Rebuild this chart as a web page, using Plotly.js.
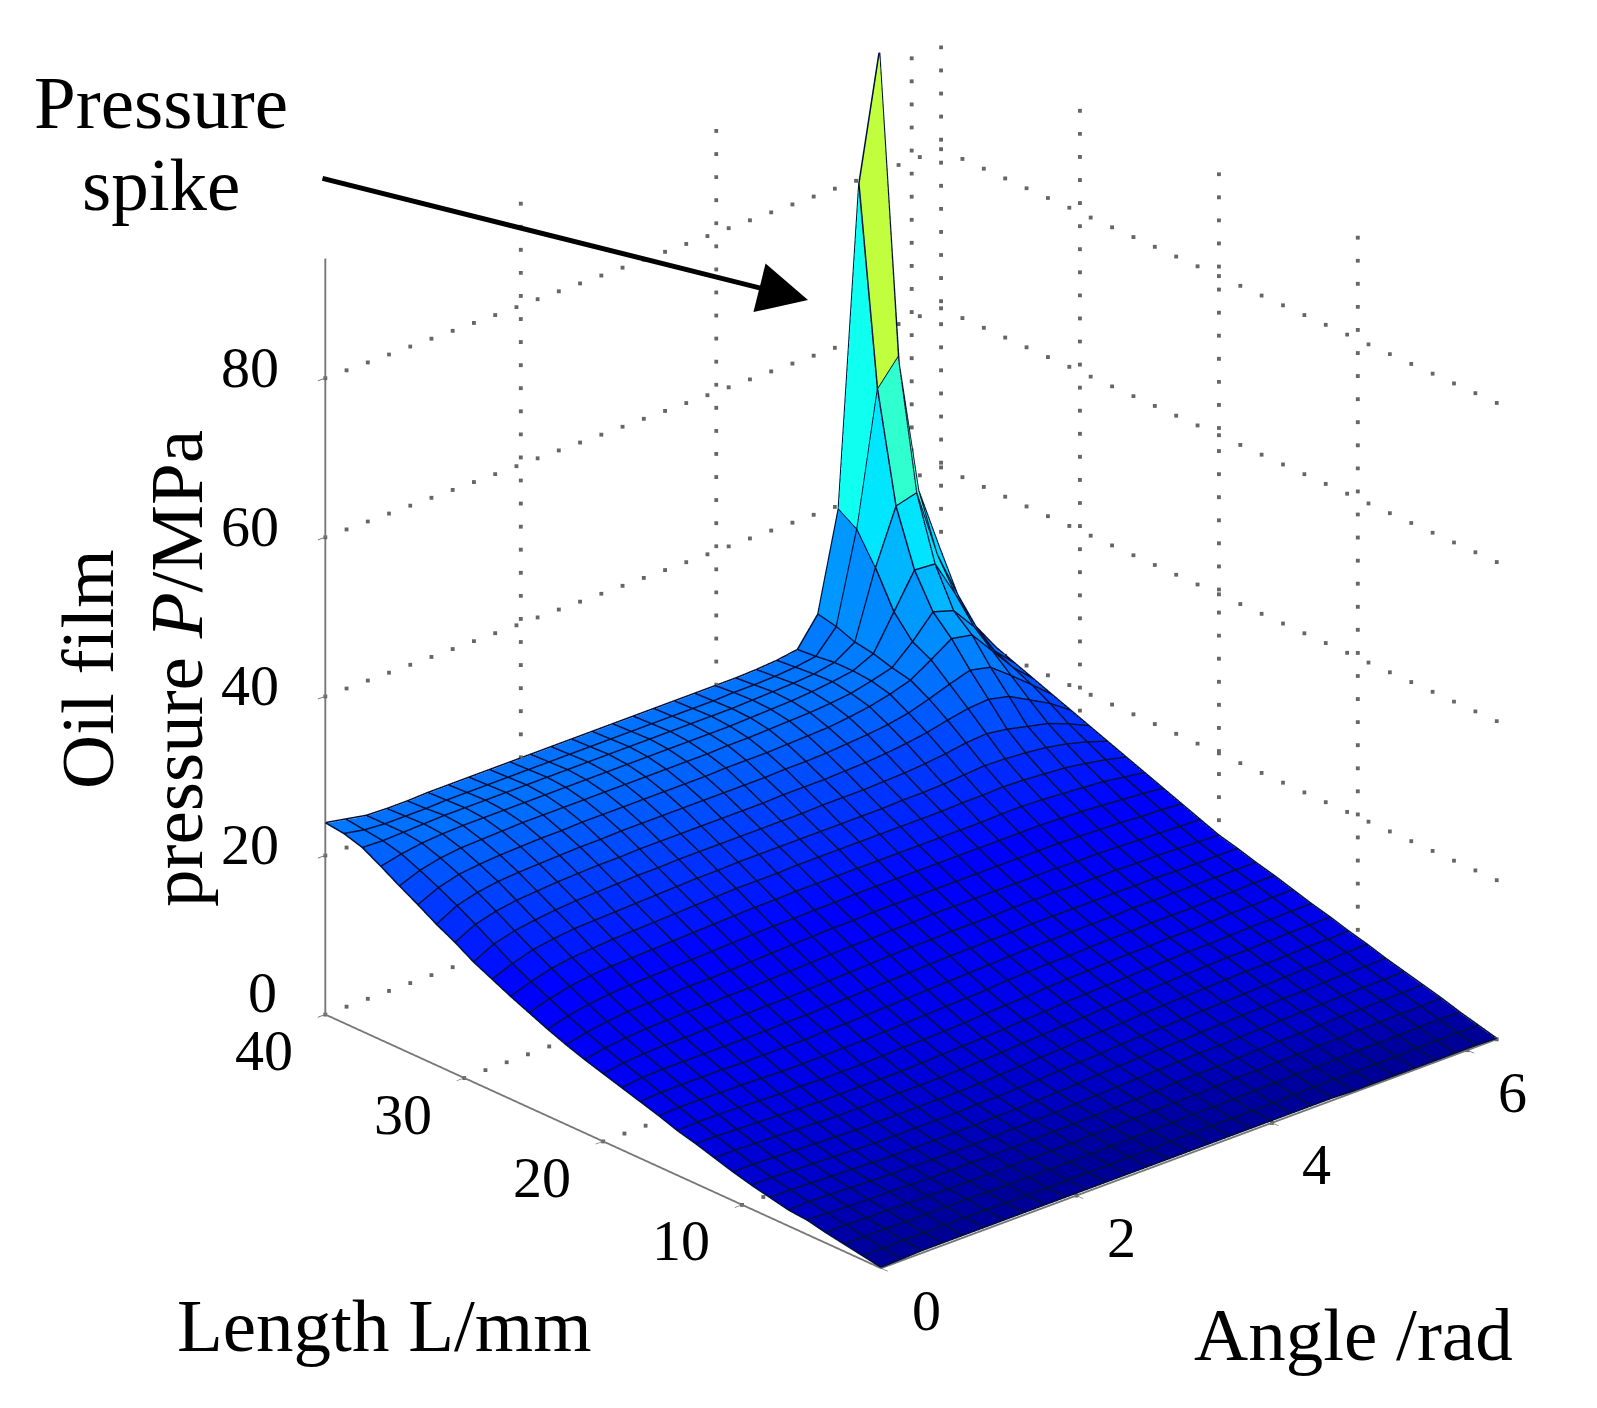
<!DOCTYPE html>
<html>
<head>
<meta charset="utf-8">
<script src="https://cdn.plot.ly/plotly-3.0.1.min.js"></script>
<style>html,body{margin:0;padding:0;background:#fff}#chart{width:1597px;height:1408px}</style>
</head>
<body>
<div id="chart"></div>
<script>
const angle = [0,.21,.42,.63,.84,1.05,1.26,1.47,1.68,1.89,2.1,2.31,2.52,2.73,2.94,3.15,3.36,3.57,3.78,3.99,4.2,4.41,4.62,4.83,5.04,5.25,5.46,5.67,5.88,6.09,6.3];
const lengthMm = [0,1.333,2.667,4,5.333,6.667,8,9.333,10.667,12,13.333,14.667,16,17.333,18.667,20,21.333,22.667,24,25.333,26.667,28,29.333,30.667,32,33.333,34.667,36,37.333,38.667,40];

// oil film pressure, one row per length
const pressure = [
[0,.1,.2,.2,.2,.2,.2,.2,.2,.2,.2,.2,.2,.2,.2,.2,.2,.2,.2,.2,.2,.2,.2,.1,.1,.1,.1,.1,.1,.1,0],
[.4,.4,.4,.4,.4,.4,.4,.3,.3,.3,.3,.3,.3,.3,.3,.4,.4,.4,.4,.4,.4,.5,.5,.5,.5,.5,.5,.6,.6,.6,.6],
[.8,.8,.8,.7,.7,.7,.7,.6,.6,.6,.6,.6,.6,.6,.7,.7,.7,.8,.8,.8,.9,.9,1,1,1,1.1,1.1,1.1,1.2,1.2,1.2],
[1.2,1.2,1.1,1.1,1,1,.9,.9,.9,.9,.9,.9,.9,1,1,1.1,1.1,1.2,1.2,1.3,1.4,1.4,1.5,1.5,1.6,1.6,1.7,1.7,1.8,1.8,1.9],
[1.7,1.6,1.5,1.4,1.4,1.3,1.2,1.2,1.2,1.2,1.2,1.2,1.3,1.3,1.4,1.4,1.5,1.6,1.7,1.8,1.8,1.9,2,2.1,2.1,2.2,2.3,2.3,2.4,2.4,2.5],
[1.9,2,1.9,1.8,1.7,1.6,1.6,1.5,1.5,1.5,1.5,1.6,1.6,1.7,1.8,1.9,2,2.1,2.2,2.3,2.4,2.4,2.5,2.6,2.7,2.8,2.8,2.9,3,3,3.1],
[2.4,2.4,2.3,2.2,2.1,2,1.9,1.9,1.9,1.9,1.9,2,2,2.1,2.2,2.3,2.5,2.6,2.7,2.8,2.9,3,3.1,3.2,3.3,3.4,3.4,3.5,3.6,3.6,3.7],
[2.9,2.9,2.8,2.7,2.6,2.5,2.4,2.4,2.4,2.4,2.4,2.5,2.5,2.6,2.7,2.9,3,3.1,3.3,3.4,3.5,3.6,3.7,3.8,3.9,4,4.1,4.2,4.2,4.3,4.4],
[3.5,3.5,3.4,3.3,3.2,3.1,3,3,3,3,3,3,3.1,3.2,3.3,3.5,3.6,3.8,3.9,4,4.2,4.3,4.4,4.5,4.6,4.7,4.7,4.8,4.9,4.9,5],
[4.2,4.2,4.1,4,3.9,3.8,3.7,3.7,3.7,3.7,3.7,3.7,3.8,3.9,4,4.2,4.3,4.5,4.6,4.8,4.9,5,5.1,5.2,5.3,5.4,5.4,5.5,5.6,5.6,5.7],
[4.9,4.9,4.8,4.7,4.6,4.5,4.4,4.4,4.4,4.4,4.4,4.5,4.6,4.7,4.8,4.9,5.1,5.2,5.4,5.5,5.6,5.7,5.8,5.9,6,6,6.1,6.2,6.2,6.3,6.3],
[5.5,5.6,5.6,5.5,5.4,5.3,5.3,5.2,5.2,5.2,5.3,5.4,5.4,5.5,5.6,5.8,5.9,6,6.2,6.3,6.4,6.5,6.6,6.6,6.7,6.7,6.8,6.9,6.9,7,7],
[6.3,6.4,6.4,6.3,6.3,6.2,6.1,6.1,6.1,6.2,6.2,6.3,6.4,6.5,6.6,6.7,6.8,7,7.1,7.2,7.2,7.3,7.4,7.4,7.5,7.5,7.5,7.6,7.6,7.7,7.7],
[7,7.2,7.2,7.2,7.2,7.1,7.1,7.1,7.1,7.2,7.2,7.3,7.4,7.5,7.6,7.7,7.8,7.9,8,8.1,8.1,8.2,8.2,8.2,8.3,8.3,8.3,8.3,8.3,8.3,8.3],
[7.7,8,8.1,8.1,8.1,8.1,8.1,8.1,8.2,8.2,8.3,8.4,8.5,8.6,8.7,8.8,8.9,8.9,9,9,9.1,9.1,9.1,9.1,9.1,9.1,9.1,9,9,9,9],
[8.4,8.8,9,9.1,9.1,9.2,9.2,9.2,9.3,9.3,9.4,9.5,9.6,9.7,9.8,9.9,9.9,10,10,10,10.1,10.1,10.1,10,10,10,9.9,9.9,9.8,9.7,9.6],
[9.1,9.6,9.9,10.1,10.2,10.3,10.3,10.4,10.4,10.5,10.6,10.7,10.8,10.9,10.9,11,11,11.1,11.1,11.1,11.1,11.1,11.1,11.1,11,11,10.9,10.8,10.7,10.6,10.5],
[9.9,10.5,10.9,11.2,11.3,11.4,11.5,11.5,11.6,11.7,11.8,11.9,12,12.1,12.1,12.2,12.2,12.2,12.2,12.2,12.2,12.2,12.2,12.2,12.2,12.1,12,11.9,11.7,11.6,11.4],
[10.8,11.5,12,12.3,12.5,12.6,12.7,12.8,12.9,13,13.1,13.2,13.2,13.3,13.3,13.4,13.4,13.4,13.4,13.4,13.4,13.4,13.4,13.4,13.4,13.3,13.2,13,12.8,12.6,12.3],
[11.8,12.6,13.2,13.6,13.8,13.9,14,14.1,14.2,14.3,14.4,14.5,14.5,14.6,14.6,14.6,14.6,14.6,14.6,14.6,14.6,14.6,14.6,14.7,14.7,14.6,14.4,14.2,14,13.6,13.2],
[12.8,13.7,14.4,14.8,15,15.2,15.3,15.4,15.5,15.6,15.7,15.8,15.8,15.8,15.9,15.9,15.9,15.9,15.9,15.9,15.9,15.9,16,16,16.1,16,15.8,15.6,15.2,14.7,14.1],
[13.9,14.9,15.7,16.1,16.4,16.5,16.6,16.7,16.8,16.9,17,17,17.1,17.1,17.1,17.1,17.1,17.1,17.1,17.1,17.2,17.2,17.3,17.5,17.7,17.6,17.4,17.1,16.6,15.9,15],
[15,16.3,17,17.4,17.7,17.9,18,18.1,18.2,18.2,18.3,18.3,18.3,18.3,18.3,18.3,18.3,18.4,18.4,18.4,18.5,18.6,18.8,19.1,19.5,19.7,19.3,18.7,18.1,17.1,15.9],
[16.4,17.7,18.4,18.8,19,19.2,19.3,19.4,19.4,19.5,19.5,19.5,19.5,19.5,19.5,19.5,19.6,19.6,19.6,19.7,19.8,20,20.3,20.7,21.3,21.8,22,21.4,20,18.6,16.8],
[17.6,19,19.7,20.1,20.3,20.4,20.5,20.6,20.6,20.7,20.7,20.7,20.7,20.7,20.7,20.7,20.7,20.8,20.8,20.9,21.1,21.3,21.6,22.1,22.9,23.8,24.6,24,22,19.9,17.7],
[19,20.2,20.9,21.2,21.4,21.5,21.6,21.6,21.7,21.7,21.7,21.7,21.7,21.7,21.7,21.8,21.8,21.8,21.9,22,22.1,22.4,22.8,23.4,24.2,25.8,27.5,27,24,21,18.6],
[20.3,21.3,21.9,22.2,22.3,22.4,22.5,22.5,22.5,22.5,22.5,22.5,22.5,22.5,22.5,22.5,22.6,22.6,22.7,22.8,22.9,23.1,23.4,24,24.7,27,29.8,29,26,22,19.5],
[21.7,22.3,22.7,22.9,23,23,23,23,23,23,23,23,23,23,23,23,23,23,23.1,23.2,23.3,23.5,23.8,24.2,25.4,29.7,34,33.8,29,24,20.4],
[23,22.9,23,23.1,23.2,23.2,23.2,23.2,23.2,23.2,23.2,23.2,23.2,23.2,23.2,23.2,23.2,23.2,23.2,23.3,23.4,23.5,23.7,24.2,25.8,34.2,41,41.7,33,27,21.4],
[23.7,23.2,23,23,23,23.1,23.1,23.1,23.1,23.1,23.1,23.1,23.1,23.1,23.1,23.1,23.1,23.1,23.1,23.2,23.2,23.3,23.5,23.9,26.7,38,54.7,57.8,40,32,22.5],
[24,23.5,23,22.9,22.9,23,23,23,23,23,23,23,23,23,23,23,23,23,23,23,23,23.1,23.3,23.7,27.2,39.5,79.4,95.2,53,34,23.6]
];

const angleRange = [0,6.3];
const lengthRange = [0,40];
const pressureRange = [0,95];
const angleTicks = [0,2,4,6];
const lengthTicks = [10,20,30,40];
const pressureTicks = [0,20,40,60,80];

// jet, as the MATLAB surf in the picture uses it (low end lifted a bit, the scan is brighter there)
const jetStops = [[0,'#000096'],[.02,'#0000c8'],[.06,'#0000ec'],[.125,'#0000ff'],[.375,'#00ffff'],[.625,'#ffff00'],[.875,'#ff0000'],[1,'#800000']];

const serif = 'Liberation Serif, serif';
const tickFont = { family: serif, size: 58, color: '#000' };
const labelFont = { family: serif, size: 75, color: '#000' };

const xMax = angleRange[1], yMax = lengthRange[1], zMax = pressureRange[1];
const wallTop = 92.8;

// faces: every cell is flat, coloured by its lowest-index corner (surf with flat faces)
const nRows = lengthMm.length, nCols = angle.length;
const meshX = [], meshY = [], meshZ = [], triI = [], triJ = [], triK = [], cellValue = [];
lengthMm.forEach((l, r) => {
    angle.forEach((a, c) => {
        meshX.push(a);
        meshY.push(l);
        meshZ.push(pressure[r][c]);
        if (r < nRows - 1 && c < nCols - 1) {
            const n = r * nCols + c;
            triI.push(n, n);
            triJ.push(n + 1, n + nCols + 1);
            triK.push(n + nCols + 1, n + nCols);
            cellValue.push(pressure[r][c], pressure[r][c]);
        }
    });
});

// mesh edges, lifted a hair so they sit on top of the faces
const edgeLift = .12;
const edgeX = [], edgeY = [], edgeZ = [];
lengthMm.forEach((l, r) => {
    angle.forEach((a, c) => {
        edgeX.push(a);
        edgeY.push(l);
        edgeZ.push(pressure[r][c] + edgeLift);
    });
    edgeX.push(null);
    edgeY.push(null);
    edgeZ.push(null);
});
angle.forEach((a, c) => {
    lengthMm.forEach((l, r) => {
        edgeX.push(a);
        edgeY.push(l);
        edgeZ.push(pressure[r][c] + edgeLift);
    });
    edgeX.push(null);
    edgeY.push(null);
    edgeZ.push(null);
});

// dotted grid on the two back walls and the floor, MATLAB style
const gridX = [], gridY = [], gridZ = [];
function addDots(x0, y0, z0, x1, y1, z1, n) {
    for (let k = 0; k <= n; k++) {
        gridX.push(x0 + (x1 - x0) * k / n);
        gridY.push(y0 + (y1 - y0) * k / n);
        gridZ.push(z0 + (z1 - z0) * k / n);
    }
}
[...angleTicks, xMax].forEach(a => {
    if (a > 0) {
        addDots(a, yMax, 0, a, yMax, wallTop, 32);
        addDots(a, 0, 0, a, yMax, 0, 26);
    }
});
lengthTicks.forEach(l => {
    addDots(xMax, l, 0, xMax, l, wallTop, 32);
    addDots(0, l, 0, xMax, l, 0, 29);
});
pressureTicks.forEach(p => {
    addDots(0, yMax, p, xMax, yMax, p, 29);
    addDots(xMax, 0, p, xMax, yMax, p, 26);
});

const faces = {
    type: 'mesh3d',
    x: meshX,
    y: meshY,
    z: meshZ,
    i: triI,
    j: triJ,
    k: triK,
    intensity: cellValue,
    intensitymode: 'cell',
    colorscale: jetStops,
    cmin: 0,
    cmax: 97,
    showscale: false,
    flatshading: true,
    hoverinfo: 'skip',
    lighting: { ambient: 1, diffuse: 0, specular: 0, roughness: 1, fresnel: 0 }
};

const edges = {
    type: 'scatter3d',
    mode: 'lines',
    x: edgeX,
    y: edgeY,
    z: edgeZ,
    connectgaps: false,
    line: { color: '#00103c', width: 3 },
    hoverinfo: 'skip',
    showlegend: false
};

const grid = {
    type: 'scatter3d',
    mode: 'markers',
    x: gridX,
    y: gridY,
    z: gridZ,
    marker: { color: '#666', size: 2, symbol: 'square', line: { width: 0 } },
    hoverinfo: 'skip',
    showlegend: false
};

const axisBase = {
    title: { text: '' },
    showgrid: false,
    zeroline: false,
    showbackground: false,
    showspikes: false,
    showline: true,
    linecolor: '#777',
    linewidth: 4,
    ticks: 'outside',
    ticklen: 10,
    tickcolor: '#777',
    tickwidth: 2,
    showticklabels: false
};

// tick labels as scene annotations, the axis ones get stretched by the projection
const tickLabels = [
    ...angleTicks.map(a => ({ x: a, y: 0, z: 0, text: String(a), xshift: 45, yshift: -42 })),
    ...lengthTicks.map(l => ({ x: 0, y: l, z: 0, text: String(l), xshift: -61, yshift: -36 })),
    ...pressureTicks.map(p => ({ x: 0, y: yMax, z: p, text: String(p), xshift: p === 0 ? -63 : -75, yshift: p === 0 ? 22 : 11 }))
].map(t => ({ ...t, showarrow: false, font: tickFont, xanchor: 'center', yanchor: 'middle' }));

const paperText = (text, px, py, extra) => ({
    text, xref: 'paper', yref: 'paper', x: px / 1597, y: 1 - py / 1408,
    xanchor: 'center', yanchor: 'middle', showarrow: false, font: labelFont, ...extra
});

const layout = {
    width: 1597,
    height: 1408,
    margin: { t: 0, r: 0, b: 0, l: 0 },
    paper_bgcolor: '#fff',
    showlegend: false,
    scene: {
        domain: { x: [.141, 1], y: [.078, 1] },
        aspectmode: 'manual',
        aspectratio: { x: 1.278, y: 1.278, z: 1.278 },
        camera: {
            eye: { x: -.963, y: -1.067, z: .65 },
            up: { x: 0, y: 0, z: 1 },
            center: { x: 0, y: 0, z: 0 },
            projection: { type: 'orthographic' }
        },
        xaxis: { ...axisBase, range: angleRange, tickvals: angleTicks },
        yaxis: { ...axisBase, range: lengthRange, tickvals: lengthTicks },
        zaxis: { ...axisBase, range: pressureRange, tickvals: pressureTicks },
        annotations: tickLabels
    },
    annotations: [
        paperText('Pressure', 161, 103),
        paperText('spike', 161, 185),
        paperText('Length L/mm', 384, 1325),
        paperText('Angle /rad', 1353, 1334),
        paperText('Oil film', 87, 669, { textangle: -90 }),
        paperText('pressure <i>P</i>/MPa', 176, 669, { textangle: -90 }),
        { text: '', xref: 'paper', yref: 'paper', x: 808 / 1597, y: 1 - 300 / 1408, axref: 'pixel', ayref: 'pixel', ax: -487, ay: -122, showarrow: true, arrowhead: 2, arrowsize: 2, arrowwidth: 5, arrowcolor: '#000' }
    ]
};

Plotly.newPlot('chart', [grid, faces, edges], layout, { displayModeBar: false });
</script>
</body>
</html>
